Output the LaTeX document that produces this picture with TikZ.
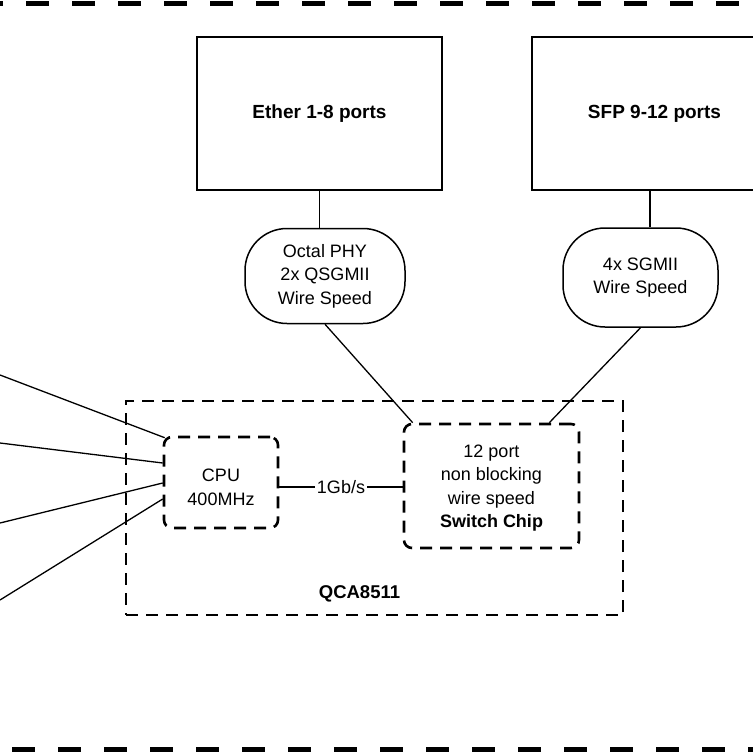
\documentclass[tikz,border=0pt]{standalone}
\usepackage{fontspec}
\setmainfont{Liberation Sans}
\usetikzlibrary{calc}
\begin{document}
\begin{tikzpicture}[x=1pt,y=-1pt,
  reg/.style={font=\fontsize{18}{23.5}\selectfont},
  portbox/.style={draw, line width=1.5pt, minimum width=245pt, minimum height=153pt, inner sep=0pt, font=\bfseries\fontsize{19}{23}\selectfont},
  phybox/.style={draw, line width=1.5pt, rounded corners=42pt, inner sep=0pt, align=center, reg},
  chipbox/.style={draw, line width=2.6pt, dash pattern=on 12pt off 8pt, rounded corners=8pt, inner sep=0pt, align=center, reg},
  conn/.style={line width=1.3pt},
  border/.style={line width=4.5pt, dash pattern=on 23pt off 23pt}
]
\useasboundingbox (0,0) rectangle (753,753);
% outer dashed borders
\coordinate (tl) at (0,3.5); \coordinate (tr) at (753,3.5);
\coordinate (bl) at (0,749.5); \coordinate (br) at (753,749.5);
\draw[border, dash phase=20pt] (tl) -- (tr);
\draw[border, dash phase=34pt] (bl) -- (br);
% QCA8511 box
\node[draw, line width=2.6pt, dash pattern=on 12pt off 8pt, minimum width=497pt, minimum height=214pt, inner sep=0pt] (qca) at (374.5,508) {};
\node[font=\bfseries\fontsize{18.5}{22}\selectfont] (qcalabel) at (359.5,594) {QCA8511};
% port boxes
\node[portbox] (ether) at (319.5,113.5) {Ether 1-8 ports};
\node[portbox] (sfp) at (654.5,113.5) {SFP 9-12 ports};
% PHY shapes
\node[phybox, minimum width=160pt, minimum height=95pt] (octal) at (325,276) {Octal PHY\\2x QSGMII\\Wire Speed};
\node[phybox, minimum width=155pt, minimum height=99pt] (sgmii) at (640.5,277.5) {4x SGMII\\Wire Speed};
% chips
\node[chipbox, minimum width=114pt, minimum height=91pt] (cpu) at (221,482.5) {};
\node[reg, align=center] (cputext) at (221,487.5) {CPU\\400MHz};
\node[chipbox, minimum width=175pt, minimum height=124pt, text depth=0pt] (sw) at (491.5,486) {12 port\\non blocking\\wire speed\\\textbf{Switch Chip}};
% connectors
\draw[conn] (ether.south) -- (octal.north -| ether.south);
\draw[conn] (sfp.south -| 650,0) -- (sgmii.north -| 650,0);
\draw[conn] (octal.south) -- ($(sw.north west)+(10,0)$);
\draw[conn] (sgmii.south) -- ($(sw.north east)+(-31,0)$);
\draw[conn] (cpu.east |- 0,487) -- node[fill=white, inner sep=1.5pt, reg] (gb) {1Gb/s} (sw.west |- 0,487);
% left links
\coordinate (l1) at (0,375); \coordinate (l2) at (0,443);
\coordinate (l3) at (0,523); \coordinate (l4) at (0,600);
\draw[conn] (l1) -- ($(cpu.north west)+(2,2)$);
\draw[conn] (l2) -- ($(cpu.west)+(0,-19.5)$);
\draw[conn] (l3) -- ($(cpu.west)+(0,0.5)$);
\draw[conn] (l4) -- ($(cpu.west)+(0,16.5)$);
\end{tikzpicture}
\end{document}
